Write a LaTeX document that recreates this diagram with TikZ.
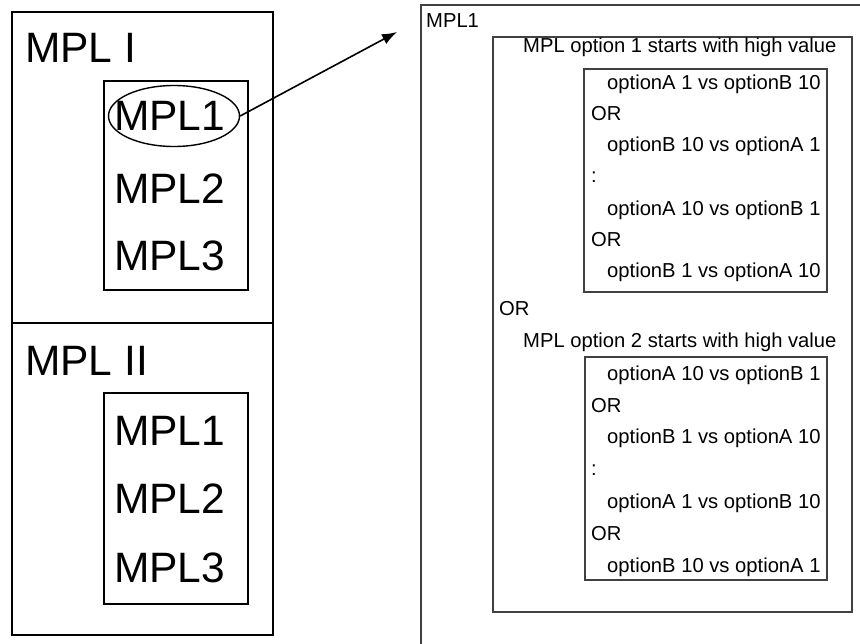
\documentclass[tikz,border=0pt]{standalone}
\usepackage{fontspec}
\setmainfont{Liberation Sans}
\usetikzlibrary{arrows.meta}
\usetikzlibrary{shapes.geometric}
\tikzset{
    bigtxt/.style = {anchor=base west, inner sep=0pt, font=\fontsize{42.5}{48}\selectfont},
    smalltxt/.style = {anchor=base west, inner sep=0pt, font=\fontsize{20.2}{24}\selectfont},
    thickbox/.style = {draw=black, line width=2pt},
    thinbox/.style = {draw=black!75, line width=1.3pt},
    pick/.style = {ellipse, draw=black, line width=1.4pt, minimum width=131pt, minimum height=61pt, inner sep=0pt}
}

\begin{document}
\begin{tikzpicture}[x=1pt, y=-1pt]
\clip (0,0) rectangle (860,643);
% left: the two groups
\draw [thickbox] (12,12) rectangle (273,323);
\draw [thickbox] (12,323) rectangle (273,635);
\draw [thickbox] (104,81) rectangle (248,290);
\draw [thickbox] (104,393) rectangle (248,604);
\node [bigtxt] (mpli) at (25,62) {MPL I};
\node [bigtxt] (mpli1) at (114,130) {MPL1};
\node [bigtxt] (mpli2) at (114,203) {MPL2};
\node [bigtxt] (mpli3) at (114,270) {MPL3};
\node [bigtxt] (mplii) at (25,375) {MPL II};
\node [bigtxt] (mplii1) at (114,445) {MPL1};
\node [bigtxt] (mplii2) at (114,513) {MPL2};
\node [bigtxt] (mplii3) at (114,582) {MPL3};
\node [pick] (sel) at (174,116) {};
% right: detail of MPL1
\coordinate (tip) at (397,32);
\draw [line width=1.6pt, -{Latex[length=15pt, width=11pt]}] (sel.east) -- (tip);
\draw [thinbox] (421,5) rectangle (880,660);
\draw [thinbox] (493,37) rectangle (852,612);
\draw [thinbox] (584,69) rectangle (827,292);
\draw [thinbox] (585,357) rectangle (827,580);
\node [smalltxt] (head) at (426,27) {MPL1};
\node [smalltxt] (opt1) at (523,52) {MPL option 1 starts with high value};
\node [smalltxt] (u1) at (607,89) {optionA 1 vs optionB 10};
\node [smalltxt] (u2) at (591,120) {OR};
\node [smalltxt] (u3) at (607,151) {optionB 10 vs optionA 1};
\node [smalltxt] (u4) at (591,182) {:};
\node [smalltxt] (u5) at (607,215) {optionA 10 vs optionB 1};
\node [smalltxt] (u6) at (591,246) {OR};
\node [smalltxt] (u7) at (607,277) {optionB 1 vs optionA 10};
\node [smalltxt] (or) at (499,315) {OR};
\node [smalltxt] (opt2) at (523,347) {MPL option 2 starts with high value};
\node [smalltxt] (w1) at (607,380) {optionA 10 vs optionB 1};
\node [smalltxt] (w2) at (591,412) {OR};
\node [smalltxt] (w3) at (607,443) {optionB 1 vs optionA 10};
\node [smalltxt] (w4) at (591,475) {:};
\node [smalltxt] (w5) at (607,508) {optionA 1 vs optionB 10};
\node [smalltxt] (w6) at (591,540) {OR};
\node [smalltxt] (w7) at (607,572) {optionB 10 vs optionA 1};
\end{tikzpicture}
\end{document}
